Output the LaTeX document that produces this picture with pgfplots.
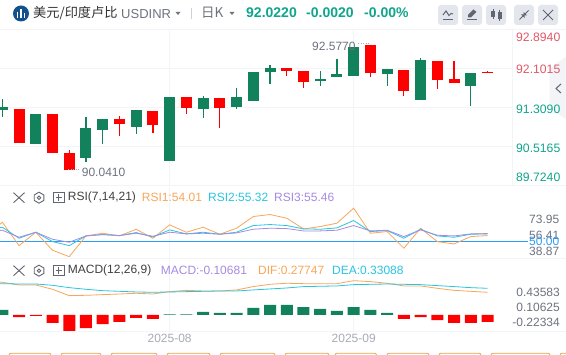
\documentclass[border=0pt]{standalone}
\usepackage{fontspec}
\usepackage{pgfplots}
\usepackage{pgfplotstable}
\pgfplotsset{compat=1.18}
\setmainfont{Liberation Sans}
\newfontfamily\cjk{Noto Sans CJK SC}
\definecolor{cgreen}{HTML}{12825C}
\definecolor{cred}{HTML}{FF0000}
\definecolor{teal1}{HTML}{10A58C}
\definecolor{pinkred}{HTML}{E0596A}
\definecolor{gridc}{HTML}{F3F4F7}
\definecolor{txtgray}{HTML}{6F7380}
\definecolor{lightgray}{HTML}{A9ACB8}
\definecolor{iconc}{HTML}{62656F}
\definecolor{btn}{HTML}{E4E6EE}
\definecolor{rorange}{HTML}{F9A65A}
\definecolor{rcyan}{HTML}{29C5E0}
\definecolor{rpurple}{HTML}{A78BE0}
\definecolor{rblue}{HTML}{2A9DF4}
\definecolor{boxo}{HTML}{DCA54C}
\definecolor{navy}{HTML}{14518C}
\newcommand{\fs}[1]{\fontsize{#1}{#1}\selectfont}
\newcommand{\T}[5][west]{\node[anchor=#1,inner sep=0pt,text=#4] at ({#2*1pt},{(355-#3)*1pt}) {#5};}

\pgfplotstableread{
x low high bot top
0 91.1126 91.4783 91.2548 91.3158
2 90.5639 91.1735 90.5639 91.1735
5 90.1981 91.1126 90.2794 90.8890
6 90.5639 91.0719 90.8484 91.0719
8 90.7671 91.2548 90.9094 91.2548
10 90.2184 91.5190 90.2184 91.5190
12 91.0923 91.5393 91.2751 91.4986
14 91.2751 91.7019 91.3158 91.5190
15 91.4377 92.0270 91.4377 92.0270
16 91.7831 92.1692 92.0270 92.1083
19 91.7425 92.0473 91.8441 91.8847
20 91.9254 92.2912 91.9254 91.9864
21 91.9457 92.5350 91.9457 92.5350
23 91.7425 92.0880 91.9864 92.0880
25 91.4580 92.3115 91.4580 92.2708
28 91.3361 92.0067 91.7425 92.0067
}\greentable
\pgfplotstableread{
x low high bot top
1 90.5842 91.2751 90.5842 91.2751
3 90.3810 91.1735 90.3810 91.1735
4 90.0356 90.4420 90.0356 90.3810
7 90.7265 91.1329 90.9703 91.0719
9 90.7874 91.2345 90.9500 91.2345
11 91.1735 91.5190 91.2954 91.5190
13 90.8890 91.4986 91.2954 91.4986
17 91.9457 92.1083 92.0473 92.1083
18 91.7019 92.0473 91.8238 92.0473
22 91.9254 92.5756 92.0067 92.5756
24 91.5393 92.0676 91.6409 92.0676
26 91.6816 92.2505 91.8644 92.2505
27 91.8035 92.2505 91.8035 91.8847
29 92.0067 92.0405 92.0135 92.0270
}\redtable
\pgfplotstableread{
x r1 r2 r3
-1 55.22 62.68 60.82
0 71.26 65.67 62.31
1 45.15 53.36 54.48
2 60.07 60.07 60.07
3 39.93 49.63 52.24
4 32.84 45.15 48.88
5 55.97 55.97 55.97
6 58.95 57.46 57.46
7 55.97 56.34 56.34
8 63.43 59.70 58.95
9 53.36 54.85 55.60
10 68.28 62.68 60.07
11 60.07 58.21 58.21
12 65.67 60.07 58.95
13 57.83 57.83 57.83
14 64.55 60.07 59.33
15 77.60 67.53 63.43
16 79.84 68.65 64.55
17 75.74 67.53 64.17
18 63.80 63.80 61.56
19 66.41 63.43 61.56
20 70.14 64.92 62.31
21 86.93 73.13 67.53
22 58.95 60.82 61.56
23 60.82 61.94 62.31
24 42.17 53.36 55.22
25 64.55 63.43 62.68
26 49.63 55.97 56.71
27 47.02 54.48 55.97
28 55.22 57.83 58.21
29 56.34 58.21 58.58
}\rsitable
\pgfplotstableread{
x dif dea
-1 .418 .385
0 .402 .385
1 .369 .381
2 .369 .381
3 .316 .365
4 .238 .336
5 .242 .316
6 .250 .299
7 .258 .291
8 .267 .283
9 .258 .279
10 .287 .283
11 .303 .287
12 .295 .291
13 .295 .295
14 .308 .295
15 .349 .308
16 .377 .320
17 .390 .332
18 .385 .349
19 .385 .353
20 .385 .357
21 .422 .373
22 .410 .377
23 .390 .381
24 .357 .377
25 .357 .373
26 .328 .361
27 .303 .349
28 .291 .336
29 .279 .328
}\macdtable
\pgfplotstableread{
x h
0 .062
10 .008
11 .008
12 .037
13 .025
14 .025
15 .086
16 .123
17 .123
18 .098
19 .074
20 .049
21 .098
22 .062
23 .025
}\histgreen
\pgfplotstableread{
x h
1 -.025
2 -.012
3 -.098
4 -.197
5 -.160
6 -.111
7 -.086
8 -.037
9 -.049
24 -.049
25 -.025
26 -.062
27 -.098
28 -.098
29 -.086
}\histred

\pgfplotsset{pane/.style={
  scale only axis, anchor=south west, clip=true,
  axis line style={draw=none}, tick style={draw=none},
  major tick length=0pt, xtick={10,21}, xticklabels={},
  xmajorgrids, major grid style={gridc,line width=0.8pt},
  yticklabels={}, ytick=\empty,
  xmin=-0.139,
}}
\pgfplotsset{wick/.style={draw=none,no markers,forget plot,error bars/.cd,y dir=plus,y explicit,error mark=none,error bar style={#1,line width=1.2pt,solid}},
  body/.style={draw=none,no markers,forget plot,error bars/.cd,y dir=plus,y explicit,error mark=none,error bar style={#1,line width=11pt,solid}}}

\begin{document}
\begin{tikzpicture}[x=1pt,y=1pt]
\path[use as bounding box,fill=white] (0,0) rectangle (566,355);

% main candlestick pane
\begin{axis}[pane, at={(0pt,169.7pt)}, width=512.3pt, height=156pt,
  xmax=30.48, ymin=89.7240, ymax=92.8940,
  ytick={92.1015,91.3090,90.5165}, ymajorgrids]
\addplot[wick=cgreen] table[x=x,y=low,y error plus expr=\thisrow{high}-\thisrow{low}] {\greentable};
\addplot[body=cgreen] table[x=x,y=bot,y error plus expr=\thisrow{top}-\thisrow{bot}] {\greentable};
\addplot[wick=cred] table[x=x,y=low,y error plus expr=\thisrow{high}-\thisrow{low}] {\redtable};
\addplot[body=cred] table[x=x,y=bot,y error plus expr=\thisrow{top}-\thisrow{bot}] {\redtable};
\end{axis}

% RSI pane
\begin{axis}[pane, at={(0pt,96.7pt)}, width=528pt, height=71.7pt,
  xmax=31.42, ymin=31, ymax=111,
  ytick={73.95,56.41,50,38.87},
  yticklabels={\textcolor{txtgray}{73.95},\textcolor{txtgray}{56.41},\textcolor{rblue}{50.00},\textcolor{txtgray}{38.87}},
  yticklabel pos=right,
  y tick label style={font=\fs{12},anchor=west,xshift=1pt,inner sep=0pt}]
\addplot[rblue,line width=0.9pt,forget plot] coordinates {(-0.139,50)(31.42,50)};
\addplot[rorange,line width=0.8pt] table[x=x,y=r1] {\rsitable};
\addplot[rcyan,line width=0.8pt] table[x=x,y=r2] {\rsitable};
\addplot[rpurple,line width=0.8pt] table[x=x,y=r3] {\rsitable};
\end{axis}

% MACD pane
\begin{axis}[pane, at={(0pt,24pt)}, width=512.3pt, height=72.7pt,
  xmax=30.48, ymin=-0.1968, ymax=0.697, clip=true,
  ybar, bar width=12pt, bar shift=0pt,
  xticklabels={2025-08,2025-09},
  x tick label style={font=\fs{12},text=lightgray,yshift=-3pt,inner sep=0pt,anchor=north},
]
\addplot[draw=none,fill=cgreen] table[x=x,y=h] {\histgreen};
\addplot[draw=none,fill=cred] table[x=x,y=h] {\histred};
\addplot[sharp plot,rorange,line width=0.8pt,fill=none] table[x=x,y=dif] {\macdtable};
\addplot[sharp plot,rcyan,line width=0.8pt,fill=none] table[x=x,y=dea] {\macdtable};
\end{axis}

% pane frame lines
\draw[gridc,line width=0.8pt] (0,325.6) -- (566,325.6);
\draw[gridc,line width=0.8pt] (0,169.3) -- (566,169.3);
\draw[gridc,line width=0.8pt] (0,96.7) -- (566,96.7);
\draw[gridc,line width=0.8pt] (0,24) -- (566,24);
\draw[gridc,line width=0.8pt] (512.3,325.6) -- (512.3,169.3);

% side tab
\fill[gridc] (566,298.3) -- (549.7,286.7) -- (549.7,246.7) -- (566,236) -- cycle;
\draw[iconc,line width=1pt] (561,271) -- (556,266.5) -- (561,262);

% price scale labels
\T{516}{37.7}{pinkred}{\fs{12.2}92.8940}
\T{516}{69.3}{pinkred}{\fs{12.2}92.1015}
\T{516}{109}{teal1}{\fs{12.2}91.3090}
\T{516}{148.3}{teal1}{\fs{12.2}90.5165}
\T{516}{177}{teal1}{\fs{12.2}89.7240}

% MACD scale labels
\T[east]{560}{292.3}{txtgray}{\fs{12}0.43583}
\T[east]{560}{307.3}{txtgray}{\fs{12}0.10625}
\T[east]{560}{322.3}{txtgray}{\fs{12}-0.22334}

% high / low notes
\T{312}{46.7}{txtgray}{\fs{12}92.5770}
\draw[lightgray,line width=0.8pt,dash pattern=on 1pt off 1.5pt] (358,355-43.5) -- (370,355-43.5);
\T{81.7}{172.7}{txtgray}{\fs{12}90.0410}
\draw[lightgray,line width=0.8pt,dash pattern=on 1pt off 1.5pt] (68,355-169) -- (80,355-169);

% header
\fill[navy] (21,355-13.5) circle (8);
\fill[white] (16.8,355-18) rectangle (18.3,355-12);
\fill[white] (20.2,355-18) rectangle (21.7,355-9);
\fill[white] (23.6,355-18) rectangle (25.1,355-13);
\T{33}{13}{black!80}{\cjk\fs{13.2}美元/印度卢比}
\T{121}{14}{txtgray}{\fs{13}USDINR}
\fill[txtgray] (175.5,355-12) -- (180.5,355-12) -- (178,355-15) -- cycle;
\draw[gridc!70!gray,line width=0.8pt] (191,355-8) -- (191,355-19);
\T{201}{13}{txtgray}{\cjk\fs{13.5}日K}
\fill[txtgray] (229.5,355-12) -- (234.5,355-12) -- (232,355-15) -- cycle;
\T{246}{12.5}{teal1}{\bfseries\fs{14}92.0220}
\T{306}{12.5}{teal1}{\bfseries\fs{14}-0.0020}
\T{364}{12.5}{teal1}{\bfseries\fs{14}-0.00\%}

% buttons
\foreach \bx in {438,462,486,514,538}
  \fill[btn,rounded corners=3pt] (\bx,355-5) rectangle (\bx+20,355-25);
\begin{scope}[iconc,line width=1pt]
  \draw (443,355-19.5) -- (453,355-19.5);
  \draw (443,355-15) -- (446,355-11) -- (449,355-15.5) -- (451,355-13.5) -- (453,355-14);
  \draw (467,355-19.5) -- (477,355-19.5);
  \fill (468,355-17.5) -- (468,355-15) -- (473.5,355-9.5) -- (476.5,355-12) -- (471,355-17.5) -- cycle;
  \fill (491,355-17) rectangle (495,355-11);
  \draw (493,355-9) -- (493,355-19);
  \fill (497.5,355-19) rectangle (501.5,355-12.5);
  \draw (499.5,355-10) -- (499.5,355-21);
  \draw (519.5,355-19.5) -- (523,355-16);
  \draw (528.5,355-10.5) -- (525,355-14);
  \fill (521,355-14.5) -- (524.5,355-14.5) -- (524.5,355-18) -- cycle;
  \fill (523.5,355-12) -- (527,355-15.5) -- (523.5,355-15.5) -- cycle;
  \draw (543,355-10) -- (553,355-20);
  \draw (553,355-10) -- (543,355-20);
\end{scope}

% pane headers
\newcommand{\paneicons}[1]{%
  \begin{scope}[iconc,line width=0.9pt]
    \draw (13.5,355-#1+5) -- (24.5,355-#1-5);
    \draw (24.5,355-#1+5) -- (13.5,355-#1-5);
    \draw (39,355-#1+5.5) -- (43.8,355-#1+2.75) -- (43.8,355-#1-2.75) -- (39,355-#1-5.5) -- (34.2,355-#1-2.75) -- (34.2,355-#1+2.75) -- cycle;
    \draw (39,355-#1) circle (1.8);
    \draw (53.5,355-#1-5) rectangle (64,355-#1+5);
    \draw (55.5,355-#1) -- (62,355-#1);
    \draw (58.75,355-#1+3.2) -- (58.75,355-#1-3.2);
  \end{scope}}
\paneicons{197.7}
\paneicons{270.7}
\T{67.7}{197.7}{black!75}{\fs{12}RSI(7,14,21)}
\T{141.7}{197.7}{rorange}{\fs{12}RSI1:54.01}
\T{208}{197.7}{rcyan}{\fs{12}RSI2:55.32}
\T{274}{197.7}{rpurple}{\fs{12}RSI3:55.46}
\T{67.7}{270.7}{black!75}{\fs{12}MACD(12,26,9)}
\T{160.7}{270.7}{rpurple}{\fs{12}MACD:-0.10681}
\T{258}{270.7}{rorange}{\fs{12}DIF:0.27747}
\T{332}{270.7}{rcyan}{\fs{12}DEA:0.33088}

% cut-off buttons at the lower edge
\begin{scope}
\clip (0,0) rectangle (566,355);
\foreach \a/\b in {9/51,61/101,111/157,167/210,220/275,285/329,335/376.5,387/429,439/481,491/550,560/600}
  \draw[boxo,line width=0.8pt,rounded corners=2pt] (\a,-5) -- (\a,1.8) -- (\b,1.8) -- (\b,-5);
\end{scope}
\end{tikzpicture}
\end{document}
